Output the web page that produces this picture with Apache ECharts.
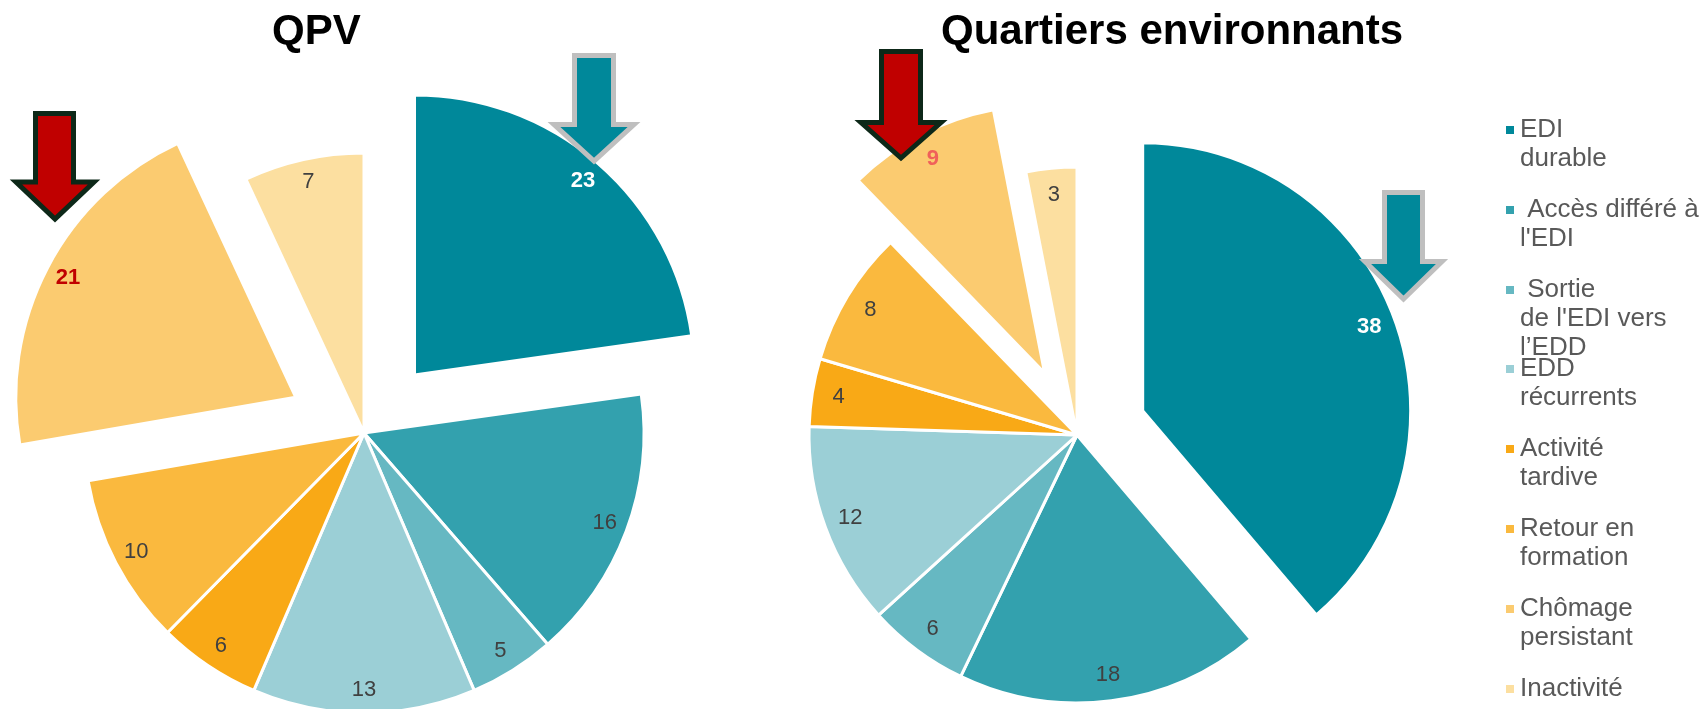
<!DOCTYPE html>
<html>
<head>
<meta charset="utf-8">
<script src="https://cdn.jsdelivr.net/npm/echarts@6/dist/echarts.min.js"></script>
<style>
  html, body { margin: 0; padding: 0; background: #ffffff; }
  #chart { width: 1706px; height: 709px; }
</style>
</head>
<body>
<div id="chart"></div>
<script>
// ---- Data ----
const categories = [
  'EDI durable',
  'Accès différé à l\'EDI',
  'Sortie de l\'EDI vers l’EDD',
  'EDD récurrents',
  'Activité tardive',
  'Retour en formation',
  'Chômage persistant',
  'Inactivité'
];
const legendLabels = [
  'EDI\ndurable',
  ' Accès différé à\nl\'EDI',
  ' Sortie\nde l\'EDI vers\nl’EDD',
  'EDD\nrécurrents',
  'Activité\ntardive',
  'Retour en\nformation',
  'Chômage\npersistant',
  'Inactivité'
];
const qpvValues = [23, 16, 5, 13, 6, 10, 21, 7];
const envValues = [38, 18, 6, 12, 4, 8, 9, 3];
const chartTitles = ['QPV', 'Quartiers environnants'];
const explodedIndices = [0, 6];

// ---- Styles ----
const colors = ['#00889A', '#33A1AE', '#66B8C2', '#9BCFD6', '#F9A916', '#FAB93E', '#FBCB70', '#FCDFA0'];
const FONT = '"Liberation Sans", Arial, sans-serif';
const labelOverrides = {
  left: { 0: { color: '#ffffff', fontWeight: 'bold' }, 6: { color: '#C00000', fontWeight: 'bold' } },
  right: { 0: { color: '#ffffff', fontWeight: 'bold' }, 6: { color: '#F0605A', fontWeight: 'bold' } }
};

function mainSeries(values, center, r, offset) {
  return {
    type: 'pie', center: center, radius: [0, r], startAngle: 90, clockwise: true,
    selectedMode: 'multiple', selectedOffset: offset, silent: true, animation: false,
    avoidLabelOverlap: false,
    label: { show: false }, labelLine: { show: false },
    itemStyle: { borderColor: '#ffffff', borderWidth: 3 },
    emphasis: { disabled: true },
    select: { itemStyle: { borderColor: '#ffffff', borderWidth: 3 } },
    data: categories.map((n, i) => ({
      name: n, value: values[i], selected: explodedIndices.includes(i),
      itemStyle: { color: colors[i] }
    }))
  };
}
function labelSeries(values, center, r0, r, offset, overrides) {
  return {
    type: 'pie', center: center, radius: [r0, r], startAngle: 90, clockwise: true,
    selectedMode: 'multiple', selectedOffset: offset, silent: true, animation: false,
    avoidLabelOverlap: false, z: 5,
    itemStyle: { color: 'rgba(0,0,0,0)', borderWidth: 0 },
    select: { itemStyle: { color: 'rgba(0,0,0,0)', borderWidth: 0 } },
    emphasis: { disabled: true },
    labelLine: { show: false },
    label: {
      show: true, position: 'inside', formatter: '{c}',
      fontSize: 22, color: '#404040', fontFamily: FONT
    },
    data: categories.map((n, i) => {
      const d = { name: n, value: values[i], selected: explodedIndices.includes(i) };
      if (overrides[i]) d.label = overrides[i];
      return d;
    })
  };
}

// legend: one component per item so spacing is uniform; the marker sits on the first line
const legendIconY = [130, 210, 290, 369, 449, 529, 609, 689];
const LH = 29;
const legends = categories.map((n, i) => {
  const lines = legendLabels[i].split('\n').length;
  const h = (2 * lines - 1) * LH;
  const shown = '\n'.repeat(lines - 1) + legendLabels[i];
  return {
    data: [n], orient: 'vertical', left: 1504, top: legendIconY[i] - h / 2,
    padding: 0, itemWidth: 10, itemHeight: 10, icon: 'rect', selectedMode: false,
    formatter: () => shown,
    textStyle: { fontSize: 26, lineHeight: LH, color: '#595959', fontFamily: FONT }
  };
});

function arrow(points, fill, stroke) {
  return {
    type: 'polygon', z: 100,
    shape: { points: points },
    style: { fill: fill, stroke: stroke, lineWidth: 5, lineJoin: 'miter' }
  };
}

const option = {
  backgroundColor: '#ffffff',
  animation: false,
  title: [
    { text: chartTitles[0], left: 272, top: 11, padding: 0,
      textStyle: { fontSize: 42, fontWeight: 'bold', color: '#000', fontFamily: FONT } },
    { text: chartTitles[1], left: 941, top: 11, padding: 0,
      textStyle: { fontSize: 42, fontWeight: 'bold', color: '#000', fontFamily: FONT } }
  ],
  legend: legends,
  series: [
    mainSeries(qpvValues, [364, 433], 280, 77),
    mainSeries(envValues, [1077, 435], 268, 70),
    labelSeries(qpvValues, [364, 433], 228, 280, 77, labelOverrides.left),
    labelSeries(envValues, [1077, 435], 209, 268, 70, labelOverrides.right)
  ],
  graphic: [
    arrow([[35.5,113.5],[73.5,113.5],[73.5,182],[94,182],[55,219],[16,182],[35.5,182]], '#C00000', '#0D2818'),
    arrow([[574.5,55.5],[613.5,55.5],[613.5,124.5],[634,124.5],[594,161],[554,124.5],[574.5,124.5]], '#00889A', '#BFBFBF'),
    arrow([[881.5,51.5],[920.5,51.5],[920.5,122.5],[941,122.5],[901,158],[861,122.5],[881.5,122.5]], '#C00000', '#0D2818'),
    arrow([[1384.5,192.5],[1422.5,192.5],[1422.5,261.5],[1442,261.5],[1403.5,299],[1365,261.5],[1384.5,261.5]], '#00889A', '#BFBFBF')
  ]
};

const chart = echarts.init(document.getElementById('chart'), null, { renderer: 'canvas' });
chart.setOption(option);
</script>
</body>
</html>
